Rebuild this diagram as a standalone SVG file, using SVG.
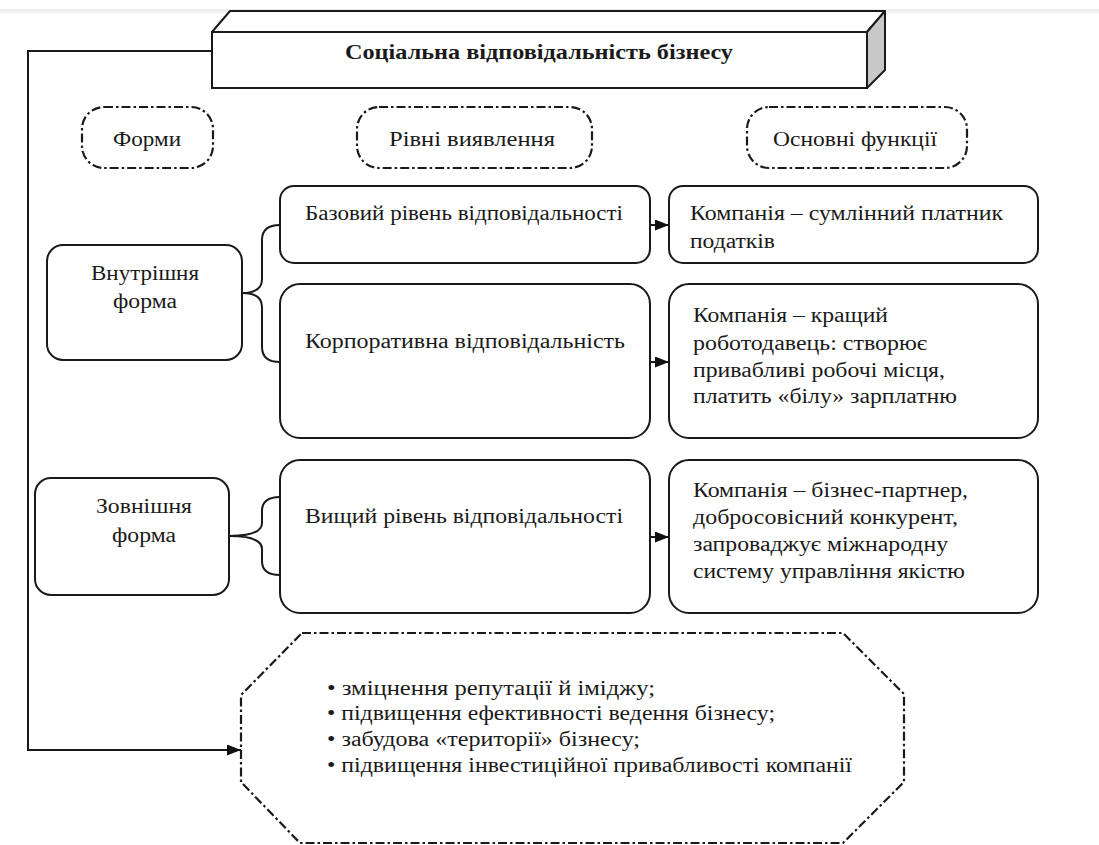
<svg xmlns="http://www.w3.org/2000/svg" width="1099" height="845" viewBox="0 0 1099 845">
  <defs>
    <linearGradient id="band" x1="0" y1="0" x2="0" y2="1">
      <stop offset="0" stop-color="#e9e9e9"/>
      <stop offset="1" stop-color="#ffffff"/>
    </linearGradient>
    <marker id="arr" viewBox="0 0 14 11" refX="14" refY="5.5" markerWidth="14" markerHeight="11" markerUnits="userSpaceOnUse" orient="auto">
      <path d="M0,0 L14,5.5 L0,11 Z" fill="#111"/>
    </marker>
  </defs>
  <style>
    .box { fill: #fff; stroke: #1a1a1a; stroke-width: 2; }
    .dd { fill: #fff; stroke: #1a1a1a; stroke-width: 2.2; stroke-dasharray: 9 3 2.5 3; }
    .ln { fill: none; stroke: #1a1a1a; stroke-width: 2; }
    text { font-family: "Liberation Serif", "DejaVu Serif", serif; font-size: 20px; fill: #1a1a1a; }
    .c { text-anchor: middle; }
    .b { font-weight: bold; font-size: 22px; }
  </style>

  <rect x="0" y="0" width="1099" height="845" fill="#fff"/>
  <rect x="0" y="9" width="1099" height="6" fill="url(#band)"/>

  <g id="title">
    <polygon points="212,32 230,11 885,11 867,32" fill="#fff" stroke="#1a1a1a" stroke-width="2" stroke-linejoin="round"/>
    <polygon points="867,32 885,11 885,70 867,88" fill="#c8c8c8" stroke="#1a1a1a" stroke-width="2" stroke-linejoin="round"/>
    <rect x="212" y="32" width="655" height="56" class="box"/>
    <text x="539" y="59" class="c b" textLength="388" lengthAdjust="spacingAndGlyphs">Соціальна відповідальність бізнесу</text>
  </g>

  <g id="cap-forms">
    <rect x="82" y="107" width="131" height="61" rx="22" ry="22" class="dd"/>
    <text x="147" y="146" class="c" textLength="68" lengthAdjust="spacingAndGlyphs">Форми</text>
  </g>
  <g id="cap-levels">
    <rect x="357" y="107" width="235" height="61" rx="22" ry="22" class="dd"/>
    <text x="472" y="146" class="c" textLength="166" lengthAdjust="spacingAndGlyphs">Рівні виявлення</text>
  </g>
  <g id="cap-functions">
    <rect x="747" y="107" width="220" height="61" rx="22" ry="22" class="dd"/>
    <text x="855" y="146" class="c" textLength="164" lengthAdjust="spacingAndGlyphs">Основні функції</text>
  </g>

  <g id="internal">
    <rect x="47" y="245" width="195" height="115" rx="16" class="box"/>
    <text x="145" y="280" class="c" textLength="108" lengthAdjust="spacingAndGlyphs">Внутрішня</text>
    <text x="145" y="308" class="c" textLength="64" lengthAdjust="spacingAndGlyphs">форма</text>
  </g>
  <g id="external">
    <rect x="35" y="478" width="194" height="117" rx="16" class="box"/>
    <text x="144" y="513" class="c" textLength="96" lengthAdjust="spacingAndGlyphs">Зовнішня</text>
    <text x="144" y="542" class="c" textLength="64" lengthAdjust="spacingAndGlyphs">форма</text>
  </g>

  <g id="basic">
    <rect x="280" y="186" width="370" height="77" rx="14" class="box"/>
    <text x="464" y="220" class="c" textLength="318" lengthAdjust="spacingAndGlyphs">Базовий рівень відповідальності</text>
  </g>
  <g id="corporate">
    <rect x="280" y="284" width="370" height="154" rx="20" class="box"/>
    <text x="465" y="348" class="c" textLength="320" lengthAdjust="spacingAndGlyphs">Корпоративна відповідальність</text>
  </g>
  <g id="higher">
    <rect x="280" y="460" width="370" height="153" rx="20" class="box"/>
    <text x="464" y="523" class="c" textLength="318" lengthAdjust="spacingAndGlyphs">Вищий рівень відповідальності</text>
  </g>

  <g id="f1">
    <rect x="669" y="186" width="369" height="77" rx="14" class="box"/>
    <text x="690" y="220" textLength="313" lengthAdjust="spacingAndGlyphs">Компанія – сумлінний платник</text>
    <text x="690" y="248" textLength="85" lengthAdjust="spacingAndGlyphs">податків</text>
  </g>
  <g id="f2">
    <rect x="669" y="284" width="369" height="154" rx="20" class="box"/>
    <text x="693" y="322" textLength="195" lengthAdjust="spacingAndGlyphs">Компанія – кращий</text>
    <text x="693" y="350" textLength="234" lengthAdjust="spacingAndGlyphs">роботодавець: створює</text>
    <text x="693" y="377" textLength="252" lengthAdjust="spacingAndGlyphs">привабливі робочі місця,</text>
    <text x="693" y="403" textLength="264" lengthAdjust="spacingAndGlyphs">платить «білу» зарплатню</text>
  </g>
  <g id="f3">
    <rect x="669" y="460" width="369" height="153" rx="20" class="box"/>
    <text x="693" y="497" textLength="275" lengthAdjust="spacingAndGlyphs">Компанія – бізнес-партнер,</text>
    <text x="693" y="524" textLength="265" lengthAdjust="spacingAndGlyphs">добросовісний конкурент,</text>
    <text x="693" y="551" textLength="255" lengthAdjust="spacingAndGlyphs">запроваджує міжнародну</text>
    <text x="693" y="578" textLength="272" lengthAdjust="spacingAndGlyphs">систему управління якістю</text>
  </g>

  <g id="results">
    <polygon points="302,633 843,633 904,694 904,782 843,843 300,843 241,782 241,695" class="dd"/>
    <text x="327" y="695" textLength="328" lengthAdjust="spacingAndGlyphs">• зміцнення репутації й іміджу;</text>
    <text x="327" y="720" textLength="448" lengthAdjust="spacingAndGlyphs">• підвищення ефективності ведення бізнесу;</text>
    <text x="327" y="746" textLength="313" lengthAdjust="spacingAndGlyphs">• забудова «території» бізнесу;</text>
    <text x="327" y="772" textLength="525" lengthAdjust="spacingAndGlyphs">• підвищення інвестиційної привабливості компанії</text>
  </g>

  <g id="connectors">
    <path class="ln" d="M280,225 Q262,225 262,240 L262,279 Q262,293 242,293 Q262,293 262,307 L262,347 Q262,362 280,362"/>
    <path class="ln" d="M280,497 Q262,497 262,511 L262,523 Q262,536 229,536 Q262,536 262,549 L262,561 Q262,575 280,575"/>
    <line class="ln" x1="650" y1="225" x2="669" y2="225" marker-end="url(#arr)"/>
    <line class="ln" x1="650" y1="362" x2="669" y2="362" marker-end="url(#arr)"/>
    <line class="ln" x1="650" y1="537" x2="669" y2="537" marker-end="url(#arr)"/>
    <polyline class="ln" points="212,51 28,51 28,750 241,750" marker-end="url(#arr)"/>
  </g>
</svg>
